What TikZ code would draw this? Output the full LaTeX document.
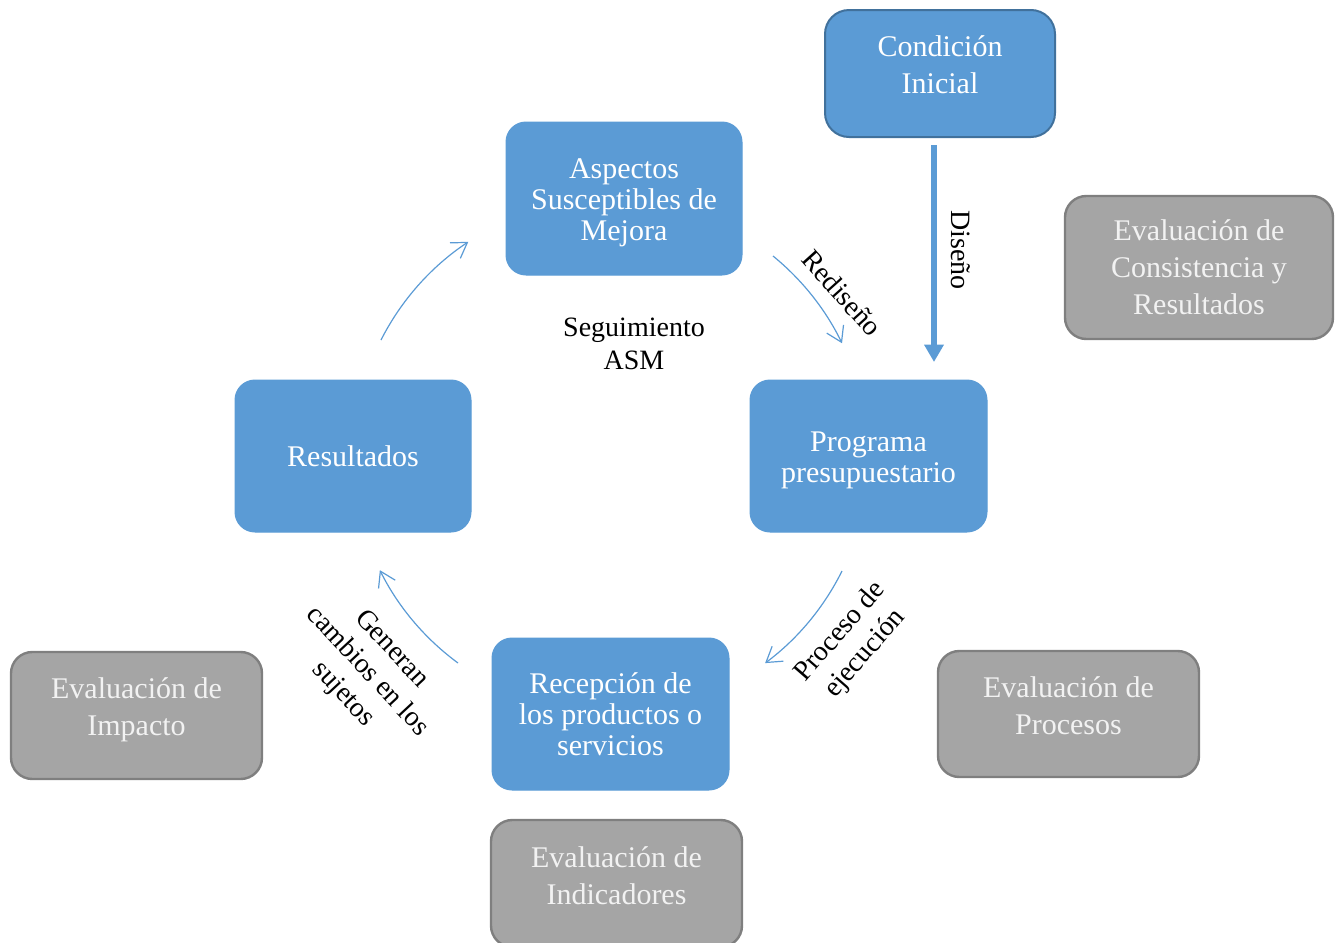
\documentclass[tikz,border=0pt]{standalone}
\usepackage{fontspec}
\setmainfont{Liberation Serif}
\usetikzlibrary{arrows.meta}
\definecolor{myblue}{HTML}{5B9BD5}
\definecolor{bluedark}{HTML}{41719C}
\definecolor{mygrey}{HTML}{A5A5A5}
\definecolor{greydark}{HTML}{7F7F7F}
\definecolor{greytext}{HTML}{F2F2F2}
\newcommand\mybxfont{\fontsize{22.5}{23.25}\selectfont}
\newcommand\mybxfontwide{\fontsize{22.5}{27.75}\selectfont}
\newcommand\mylblfont{\fontsize{21}{24.75}\selectfont}
\newcommand\mydeep[1]{\rule[-#1]{0pt}{#1}}
\newcommand\mytall[1]{\rule{0pt}{#1}}
\tikzset{
  bluebox/.style={rectangle, rounded corners=15pt, fill=myblue, draw=myblue, line width=0.75pt,
    text=white, align=center, inner sep=0pt, font=\mybxfont},
  startbox/.style={bluebox, draw=bluedark, line width=1.5pt, rounded corners=18pt, font=\mybxfontwide},
  greybox/.style={rectangle, rounded corners=16pt, fill=mygrey, draw=greydark, line width=1.8pt,
    text=greytext, align=center, inner sep=0pt, font=\mybxfontwide},
  lbl/.style={align=center, font=\mylblfont, text=black, inner sep=0pt},
  thinarrow/.style={draw=myblue, line width=0.9pt, -{Straight Barb[length=11pt,width=14pt]}},
  thickarrow/.style={draw=myblue, line width=4pt, -{Triangle[length=13pt,width=14pt]}}
}
\begin{document}
\begin{tikzpicture}[x=0.75pt,y=-0.75pt]
\useasboundingbox (0,0) rectangle (1340,943);
\clip (0,0) rectangle (1340,943);

% blue boxes
\node[startbox, minimum width=172.5pt, minimum height=95.25pt] (cond) at (940,73.5) {Condición\\Inicial\mydeep{13.5pt}};
\node[bluebox, minimum width=177pt, minimum height=114.75pt] (asm) at (624,198.5) {\mytall{22pt}Aspectos\\Susceptibles de\\Mejora};
\node[bluebox, minimum width=177.75pt, minimum height=114pt] (prog) at (868.5,456) {\mytall{22pt}Programa\\presupuestario};
\node[bluebox, minimum width=177pt, minimum height=114pt] (res) at (353,456) {Resultados};
\node[bluebox, minimum width=177.75pt, minimum height=114pt] (rec) at (610.5,714) {Recepción de\\los productos o\\servicios};

% grey boxes
\node[greybox, minimum width=201pt, minimum height=107.25pt] (ecr) at (1199,267.5) {Evaluación de\\Consistencia y\\Resultados};
\node[greybox, minimum width=188.25pt, minimum height=95.25pt] (eimp) at (136.5,715.5) {Evaluación de\\Impacto\mydeep{13.7pt}};
\node[greybox, minimum width=195.75pt, minimum height=94.5pt] (eproc) at (1068.5,714) {Evaluación de\\Procesos\mydeep{12pt}};
\node[greybox, minimum width=188.25pt, minimum height=95.25pt] (eind) at (616.5,883.5) {Evaluación de\\Indicadores\mydeep{12pt}};

% arrow end points
\coordinate (d1) at (934,145);
\coordinate (d2) at (934,362);
\coordinate (r1) at (773,256);
\coordinate (p1) at (842,571);
\coordinate (g1) at (458,663);
\coordinate (s1) at (381,340);

% connectors
\draw[thickarrow] (d1) -- (d2);
\draw[thinarrow] (r1) arc[start angle=-50.8, end angle=-25.9, radius=258];
\draw[thinarrow] (p1) arc[start angle=26.4, end angle=53.3, radius=258];
\draw[thinarrow] (g1) arc[start angle=126.3, end angle=153.5, radius=258];
\draw[thinarrow] (s1) arc[start angle=206.9, end angle=236.4, radius=258];

% labels
\node[lbl, rotate=-90] (ldis) at (961,250) {Diseño};
\node[lbl, rotate=-48] (lred) at (842,293) {Rediseño};
\node[lbl, rotate=49] (lproc) at (853,643) {Proceso de\\ejecución};
\node[lbl, rotate=-47] (lgen) at (367,672) {Generan\\cambios en los\\sujetos};
\node[lbl] (lseg) at (634,344) {Seguimiento\\ASM};
\end{tikzpicture}
\end{document}
